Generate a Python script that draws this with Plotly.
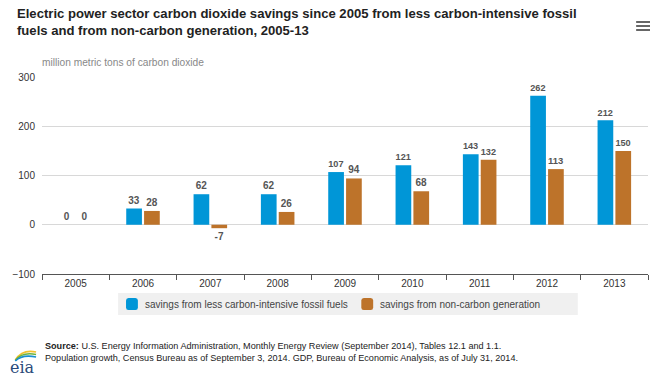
import plotly.graph_objects as go

years = ["2005", "2006", "2007", "2008", "2009", "2010", "2011", "2012", "2013"]
fossil = [0, 33, 62, 62, 107, 121, 143, 262, 212]
noncarbon = [0, 28, -7, 26, 94, 68, 132, 113, 150]
y_ticks = [-100, 0, 100, 200, 300]
series_names = ["savings from less carbon-intensive fossil fuels", "savings from non-carbon generation"]

BLUE = "#0096d7"
ORANGE = "#bd732a"
FONT = "Arial, Liberation Sans, sans-serif"

W, H = 662, 383
L, R, T, B = 35, 14, 77, 109
PW, PH = W - L - R, H - T - B


def px(x):
    return (x - L) / PW


def py(y):
    return (H - B - y) / PH


fig = go.Figure()
for vals, name, col in [(fossil, series_names[0], BLUE), (noncarbon, series_names[1], ORANGE)]:
    fig.add_trace(go.Bar(
        x=years, y=vals, name=name,
        marker=dict(color=col, line=dict(width=0)),
        text=vals, texttemplate="%{text}", textposition="outside",
        textfont=dict(size=10, color="#555555", family=FONT, weight="bold"),
        cliponaxis=False,
    ))

shapes = []
annotations = []

# custom legend
shapes.append(dict(type="rect", xref="paper", yref="paper", x0=px(112), x1=px(577), y0=py(315), y1=py(293),
                   fillcolor="#f0f0f0", line=dict(width=0), layer="below"))


def rsq(x0, y0, s, r, col):
    x1, y1 = x0 + s, y0 + s
    path = (f"M {px(x0 + r)} {py(y0)} L {px(x1 - r)} {py(y0)} Q {px(x1)} {py(y0)} {px(x1)} {py(y0 + r)} "
            f"L {px(x1)} {py(y1 - r)} Q {px(x1)} {py(y1)} {px(x1 - r)} {py(y1)} "
            f"L {px(x0 + r)} {py(y1)} Q {px(x0)} {py(y1)} {px(x0)} {py(y1 - r)} "
            f"L {px(x0)} {py(y0 + r)} Q {px(x0)} {py(y0)} {px(x0 + r)} {py(y0)} Z")
    return dict(type="path", xref="paper", yref="paper", path=path, fillcolor=col, line=dict(width=0))


shapes.append(rsq(120, 298, 12, 2.5, BLUE))
shapes.append(rsq(358, 298, 12, 2.5, ORANGE))
annotations.append(dict(text=series_names[0], xref="paper", yref="paper", x=px(137), y=py(304),
                        xanchor="left", yanchor="middle", showarrow=False,
                        font=dict(size=10, color="#444444", family=FONT)))
annotations.append(dict(text=series_names[1], xref="paper", yref="paper", x=px(375), y=py(304),
                        xanchor="left", yanchor="middle", showarrow=False,
                        font=dict(size=10, color="#444444", family=FONT)))

# menu icon
for yy in (22, 26, 30):
    shapes.append(dict(type="line", xref="paper", yref="paper", x0=px(636), x1=px(650), y0=py(yy), y1=py(yy),
                       line=dict(color="#666666", width=2)))

# eia logo swoosh
for col, dy in (("#f2c230", 0), ("#6cb33f", 2.5), ("#1a8fd0", 5)):
    shapes.append(dict(type="path", xref="paper", yref="paper",
                       path=f"M {px(8)} {py(360 + dy * 0.2)} Q {px(15)} {py(349 + dy)} {px(29)} {py(352 + dy)}",
                       line=dict(color=col, width=1.6)))

annotations += [
    dict(text="<b>Electric power sector carbon dioxide savings since 2005 from less carbon-intensive fossil<br>fuels and from non-carbon generation, 2005-13</b>",
         xref="paper", yref="paper", x=px(8), y=py(4), xanchor="left", yanchor="top",
         align="left", showarrow=False, font=dict(size=13.1, color="#222222", family=FONT)),
    dict(text="million metric tons of carbon dioxide", xref="paper", yref="paper",
         x=px(33), y=py(62), xanchor="left", yanchor="middle", showarrow=False,
         font=dict(size=10.2, color="#888888", family=FONT)),
    dict(text="<b>Source:</b> U.S. Energy Information Administration, Monthly Energy Review (September 2014), Tables 12.1 and 1.1.<br>Population growth, Census Bureau as of September 3, 2014. GDP, Bureau of Economic Analysis, as of July 31, 2014.",
         xref="paper", yref="paper", x=px(36), y=py(339), xanchor="left", yanchor="top",
         align="left", showarrow=False, font=dict(size=9.1, color="#222222", family=FONT)),
    dict(text="eia", xref="paper", yref="paper", x=px(15), y=py(367), xanchor="center", yanchor="middle",
         showarrow=False, font=dict(size=16, color="#2a4a7a", family="DejaVu Serif, serif")),
]

fig.update_layout(
    width=W, height=H,
    margin=dict(l=L, r=R, t=T, b=B),
    paper_bgcolor="white", plot_bgcolor="white",
    font=dict(family=FONT, color="#333333"),
    barmode="group", bargap=0.47, bargroupgap=0.12,
    showlegend=False,
    xaxis=dict(
        showgrid=False, showline=True, linecolor="#555555", linewidth=1,
        ticks="outside", tickson="boundaries", ticklen=5, tickcolor="#555555",
        tickfont=dict(size=10, color="#333333", family=FONT),
        fixedrange=True,
    ),
    yaxis=dict(
        range=[-100, 300], tickvals=y_ticks, showgrid=True, gridcolor="#d8d8d8",
        gridwidth=1, zeroline=False, showline=False,
        tickfont=dict(size=10, color="#333333", family=FONT),
        ticklabelstandoff=6,
    ),
    shapes=shapes,
    annotations=annotations,
)

fig.write_html("out.html", config={"displayModeBar": False},
               post_script="document.body.style.margin='0';")
